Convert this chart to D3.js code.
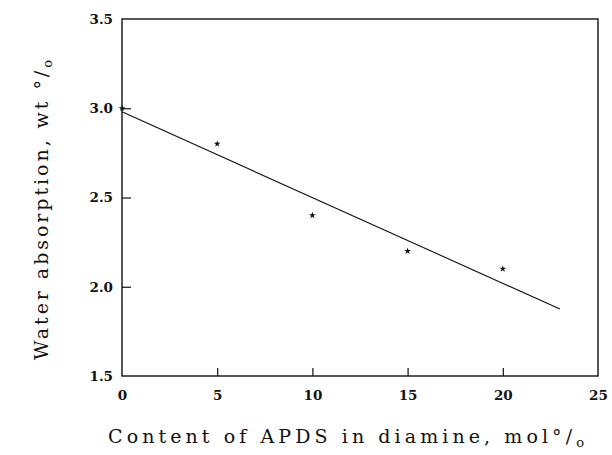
<!DOCTYPE html>
<html>
<head>
<meta charset="utf-8">
<script src="https://cdn.jsdelivr.net/npm/d3@7"></script>
<style>
  html, body { margin: 0; padding: 0; background: #fff; }
  .tick text { font-family: "DejaVu Serif", serif; font-size: 13.5px; font-weight: bold; fill: #111; }
  .axis-title { font-family: "DejaVu Serif", serif; font-size: 19px; fill: #111; }
</style>
</head>
<body>
<div id="chart"></div>
<script>
// measured data
const apds = [0, 5, 10, 15, 20];
const water = [3.0, 2.8, 2.4, 2.2, 2.1];
// fitted line
const fitX = [0, 23];
const fitY = [2.98, 1.875];
const xTicks = [0, 5, 10, 15, 20, 25];
const yTicks = [1.5, 2.0, 2.5, 3.0, 3.5];

const fullW = 612, fullH = 455;
const margin = { top: 19, right: 14, bottom: 79, left: 122 };
const W = fullW - margin.left - margin.right;
const H = fullH - margin.top - margin.bottom;

const svg = d3.select("#chart").append("svg")
  .attr("width", fullW).attr("height", fullH);
const g = svg.append("g").attr("transform", `translate(${margin.left},${margin.top})`);

const x = d3.scaleLinear().domain([0, 25]).range([0, W]);
const y = d3.scaleLinear().domain([1.5, 3.5]).range([H, 0]);

// frame
g.append("rect").attr("width", W).attr("height", H)
  .attr("fill", "none").attr("stroke", "#111").attr("stroke-width", 1.4);

// axes with inward ticks
const xAxis = g.append("g").attr("transform", `translate(0,${H})`)
  .call(d3.axisBottom(x).tickValues(xTicks).tickSize(-8).tickPadding(14).tickFormat(d3.format("d")));
const yAxis = g.append("g")
  .call(d3.axisLeft(y).tickValues(yTicks).tickSize(-9).tickPadding(9).tickFormat(d3.format(".1f")));
[xAxis, yAxis].forEach(a => {
  a.select(".domain").remove();
  a.selectAll(".tick line").attr("stroke", "#111").attr("stroke-width", 1.2);
});
// first/last ticks sit on frame corners
xAxis.selectAll(".tick line").filter(d => d === 0 || d === 25).remove();
yAxis.selectAll(".tick line").filter(d => d === 1.5 || d === 3.5).remove();

// fit line
const line = d3.line().x(d => x(d[0])).y(d => y(d[1]));
g.append("path")
  .datum(fitX.map((v, i) => [v, fitY[i]]))
  .attr("d", line)
  .attr("fill", "none").attr("stroke", "#111").attr("stroke-width", 1.1);

// points
g.selectAll(".pt").data(apds.map((v, i) => [v, water[i]]))
  .enter().append("path")
  .attr("class", "pt")
  .attr("transform", d => `translate(${x(d[0])},${y(d[1])})`)
  .attr("d", d3.symbol().type(d3.symbolStar).size(14))
  .attr("fill", "#111");

// axis titles
const xt = svg.append("text").attr("class", "axis-title")
  .attr("x", 108).attr("y", 443)
  .attr("textLength", 476).attr("lengthAdjust", "spacing");
xt.append("tspan").text("Content of APDS in diamine, mol°/");
xt.append("tspan").attr("dy", 4).attr("font-size", 13).text("o");

const yt = svg.append("text").attr("class", "axis-title")
  .attr("transform", "translate(48,360) rotate(-90)")
  .attr("x", 0).attr("y", 0)
  .attr("textLength", 300).attr("lengthAdjust", "spacing");
yt.append("tspan").text("Water absorption, wt °/");
yt.append("tspan").attr("dy", 4).attr("font-size", 13).text("o");
</script>
</body>
</html>
